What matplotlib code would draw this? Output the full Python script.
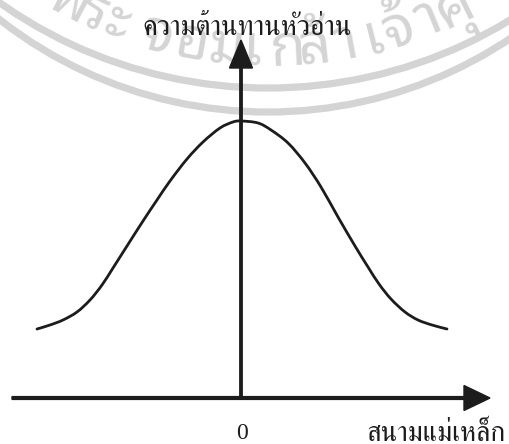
import numpy as np
import matplotlib
matplotlib.use("Agg")
import matplotlib.pyplot as plt
from matplotlib.patches import Arc, PathPatch
from matplotlib.path import Path

# read-head resistance vs applied magnetic field (arbitrary units)
field = [-2.04, -1.91, -1.78, -1.64, -1.51, -1.39, -1.28, -1.14, -0.98, -0.84,
         -0.71, -0.54, -0.38, -0.21, -0.08, 0.00, 0.17, 0.30, 0.47, 0.64,
         0.80, 0.97, 1.14, 1.27, 1.38, 1.50, 1.64, 1.77, 1.91, 2.06]
resistance = [0.69, 0.73, 0.78, 0.86, 0.98, 1.13, 1.30, 1.52, 1.77, 1.98,
              2.17, 2.39, 2.56, 2.70, 2.76, 2.77, 2.75, 2.68, 2.55, 2.35,
              2.11, 1.81, 1.52, 1.31, 1.14, 0.99, 0.86, 0.78, 0.73, 0.69]

y_label = "ความต้านทานหัวอ่าน"
x_label = "สนามแม่เหล็ก"
origin_label = "0"

thai = ["FreeSerif", "DejaVu Sans"]
ink = "#1c1c1c"
wm = "#d4d4d4"


def smooth_path(xs, ys):
    # Catmull-Rom through the points, written as cubic Bezier segments
    pts = np.column_stack([xs, ys])
    verts = [pts[0]]
    codes = [Path.MOVETO]
    for i in range(len(pts) - 1):
        p0 = pts[max(i - 1, 0)]
        p1 = pts[i]
        p2 = pts[i + 1]
        p3 = pts[min(i + 2, len(pts) - 1)]
        verts += [p1 + (p2 - p0) / 6, p2 - (p3 - p1) / 6, p2]
        codes += [Path.CURVE4] * 3
    return Path(verts, codes)


fig = plt.figure(figsize=(5.09, 4.44), dpi=100)
ax = fig.add_axes([0, 0, 1, 1])
ax.set_xlim(-2.41, 2.68)
ax.set_ylim(-0.46, 3.98)
ax.axis("off")

# background seal: two arcs and its lettering
cx = 0.27
ax.add_patch(Arc((cx, 7.75), 9.30, 9.30, theta1=220, theta2=320, color=wm, lw=5.2, zorder=0))
ax.add_patch(Arc((cx, 7.22), 8.72, 8.72, theta1=220, theta2=320, color=wm, lw=5.2, zorder=0))
seal_chars = ["พ", "ร", "ะ", "จ", "อ", "ม", "เ", "ก", "ล้", "า", "เ", "จ้", "า", "คุ"]
seal_angles = [-27.6, -24.0, -20.6, -15.0, -10.2, -5.6, -2.1, 2.7, 6.2, 10.5,
               14.3, 17.8, 22.1, 25.9]
r_base = 4.43
for ch, a in zip(seal_chars, seal_angles):
    t = np.radians(a)
    ax.text(cx + r_base * np.sin(t), 7.75 - r_base * np.cos(t), ch,
            rotation=a, rotation_mode="anchor", ha="center", va="baseline",
            fontsize=42, color=wm, family=["Noto Sans Thai Looped", "DejaVu Sans"],
            fontweight="bold", zorder=0)

# axes with arrow heads
ax.arrow(-2.29, 0, 4.78, 0, width=0.028, head_width=0.25, head_length=0.26,
         length_includes_head=True, color=ink, zorder=2)
ax.arrow(0, 0, 0, 3.58, width=0.024, head_width=0.23, head_length=0.28,
         length_includes_head=True, color=ink, zorder=2)

ax.add_patch(PathPatch(smooth_path(field, resistance), fill=False, edgecolor=ink,
                       lw=2.0, capstyle="round", joinstyle="round", zorder=3))

ax.text(0.06, 3.63, y_label, ha="center", va="baseline", fontsize=20,
        family=thai, color=ink)
ax.text(1.95, -0.43, x_label, ha="center", va="baseline", fontsize=20,
        family=thai, color=ink)
ax.text(0.01, -0.41, origin_label, ha="center", va="baseline", fontsize=17,
        family=["Liberation Serif", "DejaVu Serif"], color=ink)

fig.savefig("out.png", dpi=100)
